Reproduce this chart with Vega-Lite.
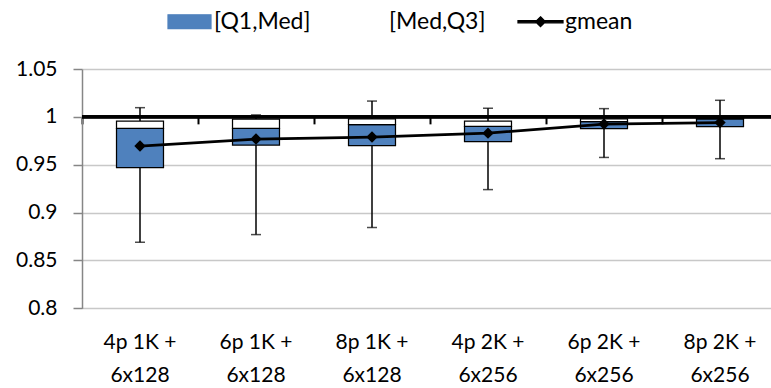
{
  "$schema": "https://vega.github.io/schema/vega-lite/v6.json",
  "autosize": {"type": "none"},
  "padding": {"left": 82, "top": 69, "right": 0, "bottom": 79.7},
  "width": 689,
  "height": 239.3,
  "background": "white",
  "config": {
    "view": {"stroke": null},
    "font": "Lato",
    "legend": {
      "orient": "none", "legendX": 84, "legendY": -71, "direction": "horizontal",
      "title": null, "padding": 0,
      "labelFont": "Lato", "labelFontSize": 23, "labelColor": "black",
      "symbolSize": 2025, "labelOffset": 1, "columnPadding": 29,
      "symbolStrokeWidth": 1.25, "symbolOpacity": 1
    }
  },
  "data": {
    "values": [
      {"cat": "4p 1K +|6x128", "min": 0.869, "q1": 0.947, "med": 0.988, "q3": 0.9956, "max": 1.0096, "gmean": 0.9695},
      {"cat": "6p 1K +|6x128", "min": 0.877, "q1": 0.9705, "med": 0.988, "q3": 0.9977, "max": 1.002, "gmean": 0.9768},
      {"cat": "8p 1K +|6x128", "min": 0.8844, "q1": 0.970, "med": 0.9918, "q3": 0.998, "max": 1.0165, "gmean": 0.9789},
      {"cat": "4p 2K +|6x256", "min": 0.924, "q1": 0.974, "med": 0.990, "q3": 0.9956, "max": 1.009, "gmean": 0.983},
      {"cat": "6p 2K +|6x256", "min": 0.9576, "q1": 0.9877, "med": 0.995, "q3": 0.998, "max": 1.0086, "gmean": 0.9925},
      {"cat": "8p 2K +|6x256", "min": 0.9563, "q1": 0.9897, "med": 0.998, "q3": 0.999, "max": 1.0173, "gmean": 0.994}
    ]
  },
  "resolve": {"axis": {"x": "independent"}},
  "layer": [
    {
      "mark": {"type": "rule", "color": "black", "strokeWidth": 1.5},
      "encoding": {
        "x": {
          "field": "cat", "type": "nominal", "sort": null,
          "scale": {"type": "band", "paddingInner": 0, "paddingOuter": 0, "range": [0, 696]},
          "axis": {
            "title": null, "domain": false, "ticks": false, "grid": false,
            "labelExpr": "split(datum.label, '|')",
            "labelFont": "Lato", "labelFontSize": 21, "labelColor": "black",
            "labelPadding": 23, "labelLineHeight": 33, "labelAngle": 0, "labelBaseline": "top"
          }
        },
        "y": {
          "field": "min", "type": "quantitative",
          "scale": {"domain": [0.8, 1.05], "nice": false, "zero": false},
          "axis": {
            "title": null,
            "values": [0.8, 0.825, 0.85, 0.875, 0.9, 0.925, 0.95, 0.975, 1, 1.025, 1.05],
            "format": "~g",
            "labelExpr": "round(datum.value*1000) % 50 === 0 ? datum.label : ''",
            "grid": true, "gridColor": "#C8C8C8", "gridWidth": 1.5,
            "domainColor": "#868686", "domainWidth": 1.5,
            "tickColor": "#868686", "tickWidth": 1.5, "tickSize": 9,
            "tickOpacity": {"condition": {"test": "round(datum.value*1000) % 50 === 0", "value": 1}, "value": 0},
            "labelPadding": 16, "labelFont": "Lato", "labelFontSize": 21, "labelColor": "black",
            "labelOverlap": false, "labelFlush": false, "labelBound": false
          }
        },
        "y2": {"field": "max"}
      }
    },
    {
      "mark": {"type": "tick", "orient": "horizontal", "color": "black", "size": 10, "thickness": 1.5},
      "encoding": {
        "x": {"field": "cat", "type": "nominal", "sort": null, "axis": null},
        "y": {"field": "min", "type": "quantitative"}
      }
    },
    {
      "mark": {"type": "tick", "orient": "horizontal", "color": "black", "size": 10, "thickness": 1.5},
      "encoding": {
        "x": {"field": "cat", "type": "nominal", "sort": null, "axis": null},
        "y": {"field": "max", "type": "quantitative"}
      }
    },
    {
      "mark": {"type": "bar", "stroke": "black", "strokeWidth": 1.25, "width": {"band": 0.405}},
      "encoding": {
        "x": {"field": "cat", "type": "nominal", "sort": null, "axis": null},
        "y": {"field": "q1", "type": "quantitative"},
        "y2": {"field": "med"},
        "color": {
          "datum": "[Q1,Med]",
          "scale": {"domain": ["[Q1,Med]", "[Med,Q3]", "gmean"], "range": ["#4F81BD", "#FFFFFF", "#000000"]}
        }
      }
    },
    {
      "mark": {"type": "bar", "stroke": "black", "strokeWidth": 1.25, "width": {"band": 0.405}},
      "encoding": {
        "x": {"field": "cat", "type": "nominal", "sort": null, "axis": null},
        "y": {"field": "med", "type": "quantitative"},
        "y2": {"field": "q3"},
        "color": {"datum": "[Med,Q3]"}
      }
    },
    {
      "mark": {"type": "rule", "color": "black", "strokeWidth": 2.75},
      "encoding": {"y": {"datum": 1, "type": "quantitative"}}
    },
    {
      "mark": {"type": "line", "strokeWidth": 2.75},
      "encoding": {
        "x": {
          "field": "cat", "type": "nominal", "sort": null,
          "axis": {
            "orient": "bottom", "offset": -191.44, "title": null,
            "domain": false, "labels": false, "grid": false,
            "ticks": true, "bandPosition": 0, "tickColor": "black", "tickWidth": 2, "tickSize": 7
          }
        },
        "y": {"field": "gmean", "type": "quantitative"},
        "color": {"datum": "gmean"}
      }
    },
    {
      "mark": {"type": "point", "shape": "diamond", "filled": true, "size": 130, "opacity": 1},
      "encoding": {
        "x": {"field": "cat", "type": "nominal", "sort": null, "axis": null},
        "y": {"field": "gmean", "type": "quantitative"},
        "color": {"datum": "gmean"}
      }
    },
    {
      "mark": {"type": "point", "filled": true, "opacity": 0},
      "encoding": {
        "x": {"field": "cat", "type": "nominal", "sort": null, "axis": null},
        "y": {"field": "gmean", "type": "quantitative"},
        "color": {"datum": "gmean"},
        "stroke": {
          "datum": "gmean",
          "scale": {"domain": ["[Q1,Med]", "[Med,Q3]", "gmean"], "range": ["#000000", "#000000", "#000000"]}
        },
        "shape": {
          "datum": "gmean",
          "scale": {
            "domain": ["[Q1,Med]", "[Med,Q3]", "gmean"],
            "range": ["M-0.955,-0.31H0.955V0.31H-0.955Z", "M-0.955,-0.31H0.955V0.31H-0.955Z", "M-1,-0.045H1V0.045H-1Z M0,-0.22L0.22,0L0,0.22L-0.22,0Z"]
          }
        }
      }
    }
  ]
}
